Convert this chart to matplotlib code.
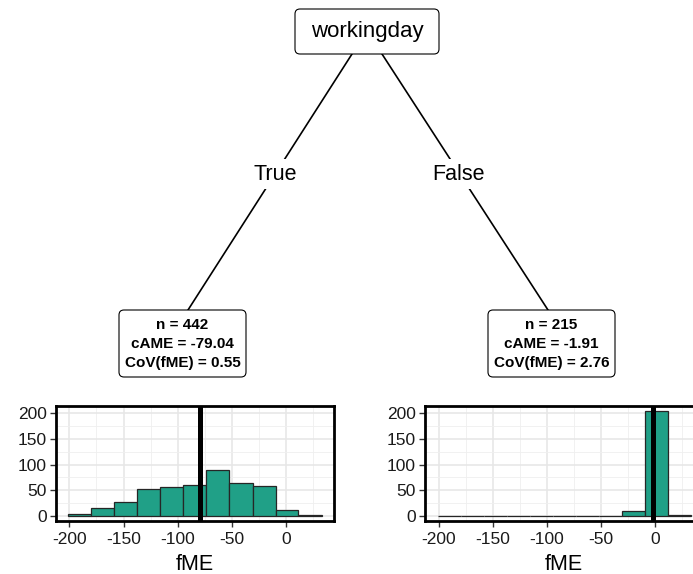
import matplotlib.pyplot as plt
from matplotlib.patches import FancyBboxPatch
from matplotlib.ticker import MultipleLocator

plt.rcParams['font.family'] = ['Liberation Sans', 'DejaVu Sans']

# Histogram bins shared by both leaves
bin_edges = [-201.0, -179.7, -158.5, -137.2, -115.9, -94.6, -73.4, -52.1, -30.8, -9.5, 11.7, 33.0]
true_counts = [3, 15, 26, 53, 56, 60, 90, 64, 58, 11, 2]
false_counts = [0, 0, 0, 0, 0, 0, 0, 0, 9, 205, 1]

split_feature = 'workingday'
branch_labels = ['True', 'False']
leaf_n = [442, 215]
leaf_came = [-79.04, -1.91]
leaf_cov = [0.55, 2.76]

x_ticks = [-200, -150, -100, -50, 0]
y_ticks = [0, 50, 100, 150, 200]

W, H = 693, 574
fig = plt.figure(figsize=(W / 100, H / 100), dpi=100)

# Tree drawn in pixel coordinates on an overlay axes
tree = fig.add_axes([0, 0, 1, 1], zorder=0)
tree.set_xlim(0, W)
tree.set_ylim(H, 0)
tree.axis('off')


def box(ax, x0, y0, x1, y1):
    ax.add_patch(FancyBboxPatch((x0, y0), x1 - x0, y1 - y0,
                                boxstyle='round,pad=0,rounding_size=5',
                                facecolor='white', edgecolor='black', lw=0.8, zorder=3))


# root node
box(tree, 295, 9, 439, 54)
tree.text(367, 32, split_feature, ha='center', va='center', fontsize=16, zorder=4)

# edges with branch labels
edges = [((352, 54), (188, 310), (275, 174)), ((382, 54), (548, 310), (459, 174))]
for (p0, p1, lab_pos), lab in zip(edges, branch_labels):
    tree.plot([p0[0], p1[0]], [p0[1], p1[1]], color='black', lw=1.2, zorder=1)
    tree.text(lab_pos[0], lab_pos[1], lab, ha='center', va='center', fontsize=15.5, zorder=2,
              bbox=dict(boxstyle='square,pad=0.22', facecolor='white', edgecolor='none'))

# leaf summary boxes
leaf_boxes = [(119, 310, 246, 377), (488, 310, 615, 377)]
for (x0, y0, x1, y1), n, came, cov in zip(leaf_boxes, leaf_n, leaf_came, leaf_cov):
    box(tree, x0, y0, x1, y1)
    txt = f'n = {n}\ncAME = {came:.2f}\nCoV(fME) = {cov:.2f}'
    tree.text((x0 + x1) / 2, (y0 + y1) / 2 + 0.5, txt, ha='center', va='center',
              fontsize=11, fontweight='bold', linespacing=1.42, zorder=4)

# leaf histograms
panels = [(true_counts, leaf_came[0], 55.7), (false_counts, leaf_came[1], 425)]
for counts, came, left_px in panels:
    ax = fig.add_axes([left_px / W, (H - 521) / H, 278.5 / W, 115.3 / H], zorder=2)
    widths = [bin_edges[i + 1] - bin_edges[i] for i in range(len(counts))]
    ax.bar(bin_edges[:-1], counts, width=widths, align='edge',
           color='#20A087', edgecolor='#262626', linewidth=0.9, zorder=2)
    ax.axvline(came, color='black', lw=3.6, zorder=3)
    ax.set_xlim(-212.7, 44.7)
    ax.set_ylim(-10.25, 215.25)
    ax.set_xticks(x_ticks)
    ax.set_yticks(y_ticks)
    ax.set_xticklabels([str(v) for v in x_ticks])
    ax.xaxis.set_minor_locator(MultipleLocator(25))
    ax.yaxis.set_minor_locator(MultipleLocator(25))
    ax.grid(which='major', color='#e6e6e6', lw=1.1, zorder=0)
    ax.grid(which='minor', color='#efefef', lw=0.6, zorder=0)
    ax.set_axisbelow(True)
    ax.tick_params(which='major', length=4, width=1, color='#333333',
                   labelsize=12.5, labelcolor='#1a1a1a', pad=2.5)
    ax.tick_params(axis='x', which='major', pad=4)
    ax.tick_params(which='minor', length=0)
    for s in ax.spines.values():
        s.set_linewidth(2)
        s.set_color('black')
    ax.set_xlabel('fME', fontsize=15.5, labelpad=5)

fig.savefig('out.png', dpi=100)
